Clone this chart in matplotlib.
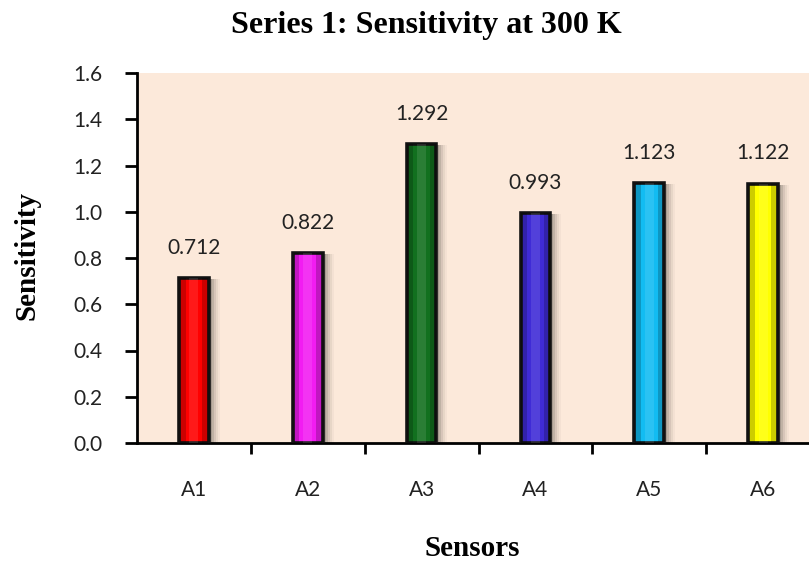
import matplotlib.pyplot as plt
import matplotlib.transforms as mtransforms
from matplotlib.ticker import MultipleLocator, FixedLocator

# --- dados ---
sensores = ["A1", "A2", "A3", "A4", "A5", "A6"]
sensibilidade = [0.712, 0.822, 1.292, 0.993, 1.123, 1.122]
cores = ["#FF0000", "#F21CF2", "#12701F", "#3F2BD6", "#12BCF2", "#FFFF00"]

FONTE_NUM = "Lato"
FONTE_TIT = "Liberation Serif"

fig = plt.figure(figsize=(8.09, 5.63), dpi=100)
# eixo vai um pouco além da borda direita, como no original
ax = fig.add_axes([137 / 809, 120 / 563, (820 - 137) / 809, 370 / 563])
ax.set_facecolor("#FCE9DA")

x = list(range(len(sensores)))
larg = 0.26

# sombra borrada das barras (várias camadas deslocadas)
for dx, a in [(3, 0.13), (5, 0.10), (7, 0.07), (9, 0.05), (11, 0.03)]:
    sombra = mtransforms.offset_copy(ax.transData, fig=fig, x=dx, y=-1, units="dots")
    ax.bar(x, sensibilidade, width=larg, color="#000000", alpha=a,
           transform=sombra, zorder=2, linewidth=0)

ax.bar(x, sensibilidade, width=larg, color=cores,
       edgecolor="#111111", linewidth=2.6, zorder=3)

# bordas escuras e brilho central para imitar o bisel do Excel
for xi, v in zip(x, sensibilidade):
    for lado in (-1, 1):
        ax.bar(xi + lado * larg * 0.38, v, width=larg * 0.2, color="black",
               alpha=0.2, linewidth=0, zorder=4)
    ax.bar(xi, v, width=larg * 0.3, color="white", alpha=0.10,
           linewidth=0, zorder=4)

for xi, v in zip(x, sensibilidade):
    ax.text(xi, v + 0.105, f"{v:.3f}", ha="center", va="baseline",
            fontsize=15, color="#222222", family=FONTE_NUM)

ax.set_xlim(-0.5, 5.5)
ax.set_ylim(0, 1.6)
ax.yaxis.set_major_locator(MultipleLocator(0.2))
ax.yaxis.set_major_formatter(plt.FuncFormatter(lambda v, p: f"{v:.1f}"))

ax.set_xticks(x)
ax.set_xticklabels(sensores)
ax.xaxis.set_minor_locator(FixedLocator([i + 0.5 for i in range(5)]))
ax.tick_params(axis="x", which="major", length=0, pad=27, labelsize=15)
ax.tick_params(axis="x", which="minor", length=8, width=2, direction="out")
ax.tick_params(axis="y", length=9, width=2, direction="out", pad=16, labelsize=15)
for lbl in ax.get_xticklabels() + ax.get_yticklabels():
    lbl.set_family(FONTE_NUM)
    lbl.set_color("#222222")

for s in ["top", "right"]:
    ax.spines[s].set_visible(False)
for s in ["left", "bottom"]:
    ax.spines[s].set_linewidth(2)
    ax.spines[s].set_color("black")

fig.text(426 / 809, 1 - 26 / 563, "Series 1: Sensitivity at 300 K", ha="center",
         va="center", fontsize=23, fontweight="bold", family=FONTE_TIT)
fig.text(472 / 809, 1 - 549 / 563, "Sensors", ha="center", va="center",
         fontsize=21, fontweight="bold", family=FONTE_TIT)
fig.text(27 / 809, 1 - 255 / 563, "Sensitivity", ha="center", va="center",
         rotation=90, fontsize=21, fontweight="bold", family=FONTE_TIT)

plt.savefig("out.png", dpi=100)
plt.close()
